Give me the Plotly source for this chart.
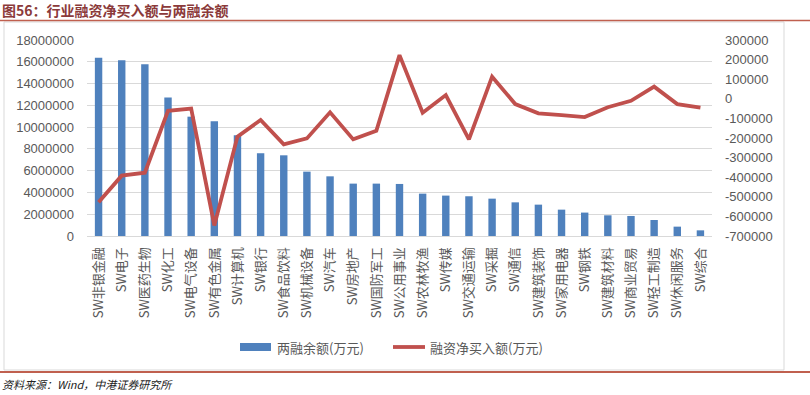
import plotly.graph_objects as go

categories = ["SW非银金融", "SW电子", "SW医药生物", "SW化工", "SW电气设备", "SW有色金属", "SW计算机",
              "SW银行", "SW食品饮料", "SW机械设备", "SW汽车", "SW房地产", "SW国防军工", "SW公用事业",
              "SW农林牧渔", "SW传媒", "SW交通运输", "SW采掘", "SW通信", "SW建筑装饰", "SW家用电器",
              "SW钢铁", "SW建筑材料", "SW商业贸易", "SW轻工制造", "SW休闲服务", "SW综合"]
balance = [16380000, 16140000, 15770000, 12710000, 10960000, 10530000, 9250000,
           7600000, 7410000, 5910000, 5480000, 4810000, 4810000, 4780000,
           3890000, 3710000, 3650000, 3430000, 3090000, 2880000, 2420000,
           2150000, 1900000, 1840000, 1470000, 860000, 520000]
net_buy = [-528000, -392000, -377000, -61000, -50000, -646000, -193000,
           -108000, -232000, -202000, -69000, -207000, -163000, 223000,
           -71000, 19000, -207000, 113000, -27000, -74000, -83000,
           -93000, -43000, -10000, 62000, -27000, -45000]
left_ticks = [0, 2000000, 4000000, 6000000, 8000000, 10000000, 12000000, 14000000, 16000000, 18000000]
right_ticks = [-700000, -600000, -500000, -400000, -300000, -200000, -100000, 0, 100000, 200000, 300000]
legend_names = ["两融余额(万元)", "融资净买入额(万元)"]

W, H = 810, 395
L, R, T, B = 87, 98, 40, 159
pw, ph = W - L - R, H - T - B

def px(x):
    return (x - L) / pw

def py(y):
    return (H - B - y) / ph

FONT = "Liberation Sans, Noto Sans CJK SC, sans-serif"
CJK = "Noto Sans CJK SC, sans-serif"
GRAY = "#595959"
BLUE = "#4F81BD"
RED = "#C0504D"

fig = go.Figure()
fig.add_trace(go.Bar(x=categories, y=balance, name=legend_names[0], marker_color=BLUE,
                     marker_line_width=0, yaxis="y", showlegend=False))
fig.add_trace(go.Scatter(x=categories, y=net_buy, name=legend_names[1], mode="lines",
                         line=dict(color=RED, width=3.8), yaxis="y2", showlegend=False))

fig.update_layout(
    width=W, height=H,
    margin=dict(l=L, r=R, t=T, b=B, autoexpand=False),
    paper_bgcolor="white", plot_bgcolor="white",
    font=dict(family=FONT, color=GRAY, size=13),
    bargap=0.68,
    xaxis=dict(tickangle=-90, showgrid=False, showline=True, linecolor="#D9D9D9", linewidth=1,
               tickfont=dict(size=13, color=GRAY, family=CJK),
               ticks="", ticklabelstandoff=5),
    yaxis=dict(range=[0, 18000000], tickvals=left_ticks, ticktext=[str(v) for v in left_ticks],
               showgrid=True, gridcolor="#D9D9D9", gridwidth=1, zeroline=False, showline=False,
               tickfont=dict(size=13, color=GRAY), ticklabelstandoff=12),
    yaxis2=dict(range=[-700000, 300000], tickvals=right_ticks, ticktext=[str(v) for v in right_ticks],
                overlaying="y", side="right", showgrid=False, zeroline=False, showline=False,
                tickfont=dict(size=13, color=GRAY), ticklabelstandoff=12),
)

shapes = [
    dict(type="rect", xref="paper", yref="paper", x0=px(4), x1=px(784), y0=py(370), y1=py(22),
         line=dict(color="#D9D9D9", width=1), fillcolor="rgba(0,0,0,0)", layer="below"),
    dict(type="line", xref="paper", yref="paper", x0=px(0), x1=px(810), y0=py(20.5), y1=py(20.5),
         line=dict(color="#C0604F", width=1.5)),
    dict(type="line", xref="paper", yref="paper", x0=px(0), x1=px(810), y0=py(372), y1=py(372),
         line=dict(color="#C0604F", width=2)),
    dict(type="rect", xref="paper", yref="paper", x0=px(240), x1=px(271), y0=py(351), y1=py(343),
         line=dict(width=0), fillcolor=BLUE),
    dict(type="line", xref="paper", yref="paper", x0=px(393), x1=px(425), y0=py(347), y1=py(347),
         line=dict(color=RED, width=3.8)),
]
fig.update_layout(shapes=shapes)

fig.add_annotation(text=legend_names[0], xref="paper", yref="paper", x=px(275), y=py(347),
                   xanchor="left", yanchor="middle", showarrow=False,
                   font=dict(family=CJK, size=13, color=GRAY))
fig.add_annotation(text=legend_names[1], xref="paper", yref="paper", x=px(428), y=py(347),
                   xanchor="left", yanchor="middle", showarrow=False,
                   font=dict(family=CJK, size=13, color=GRAY))

fig.add_annotation(text="<b>图56：行业融资净买入额与两融余额</b>", xref="paper", yref="paper",
                   x=px(0), y=py(10), xanchor="left", yanchor="middle", showarrow=False,
                   font=dict(family=CJK, size=14, color="#8B3A3A"))
fig.add_annotation(text="<i>资料来源：Wind，中港证券研究所</i>", xref="paper", yref="paper",
                   x=px(0), y=py(384), xanchor="left", yanchor="middle", showarrow=False,
                   font=dict(family=CJK, size=11, color="#222222"))

fig.write_html("out.html", config={"displayModeBar": False},
               post_script="document.body.style.margin='0';document.body.style.overflow='hidden';")
